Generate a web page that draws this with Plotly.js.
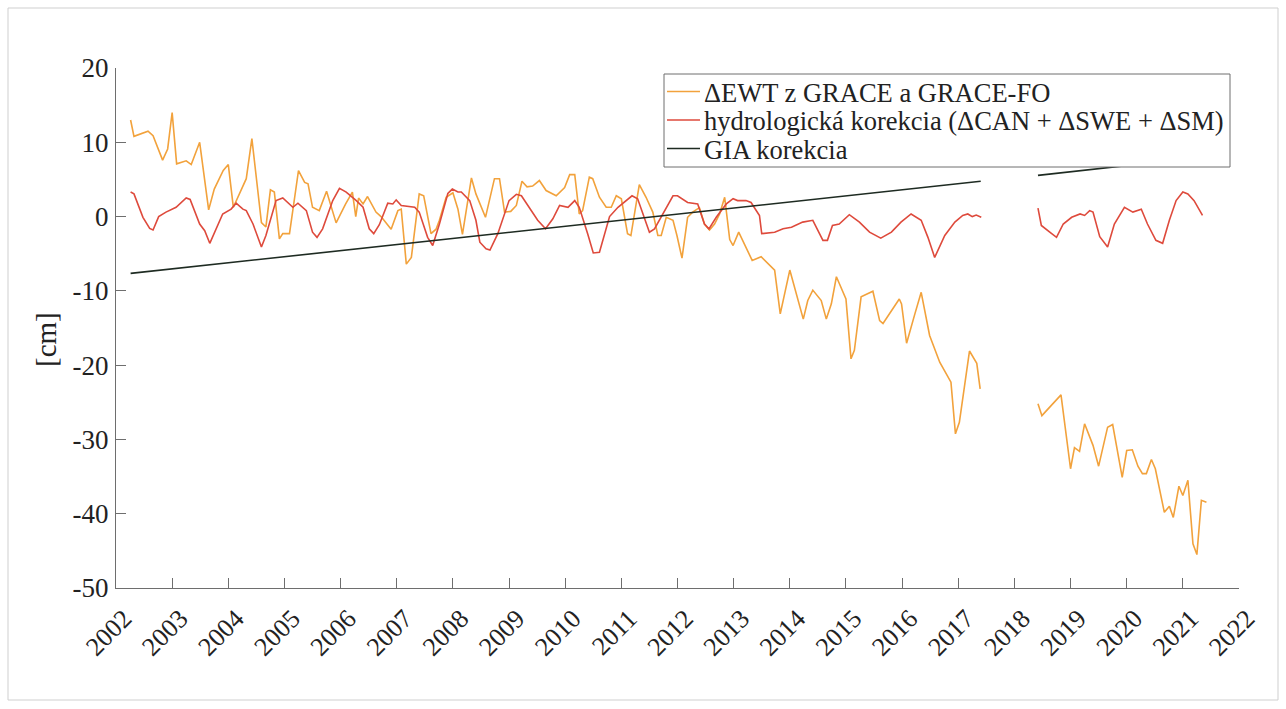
<!DOCTYPE html>
<html>
<head>
<meta charset="utf-8">
<script src="https://cdn.plot.ly/plotly-3.0.1.min.js"></script>
<style>
  html, body { margin: 0; padding: 0; background: #ffffff; }
  #chart { width: 1286px; height: 709px; }
</style>
</head>
<body>
<div id="chart"></div>
<script>
// ---- data (decimal years, cm) ----
const ewtYears = [
  2002.26,2002.32,2002.57,2002.66,2002.83,2002.92,2003.00,2003.08,2003.25,2003.34,
  2003.49,2003.65,2003.75,2003.91,2004.00,2004.09,2004.32,2004.42,2004.59,2004.67,
  2004.75,2004.82,2004.91,2004.97,2005.09,2005.25,2005.36,2005.42,2005.50,2005.62,
  2005.75,2005.92,2006.09,2006.21,2006.27,2006.32,2006.40,2006.48,2006.63,2006.72,
  2006.90,2007.02,2007.08,2007.17,2007.26,2007.40,2007.48,2007.61,2007.70,2007.76,
  2007.88,2008.00,2008.09,2008.17,2008.33,2008.41,2008.58,2008.74,2008.83,2008.92,
  2009.03,2009.13,2009.23,2009.32,2009.42,2009.54,2009.66,2009.84,2009.99,2010.08,
  2010.17,2010.25,2010.31,2010.43,2010.49,2010.61,2010.73,2010.82,2010.91,2011.00,
  2011.11,2011.17,2011.32,2011.44,2011.56,2011.65,2011.71,2011.80,2011.92,2011.99,
  2012.08,2012.18,2012.27,2012.39,2012.48,2012.57,2012.66,2012.75,2012.84,2012.93,
  2012.99,2013.09,2013.33,2013.49,2013.73,2013.83,2014.00,2014.14,2014.24,2014.32,
  2014.41,2014.56,2014.65,2014.74,2014.83,2015.00,2015.09,2015.15,2015.27,2015.48,
  2015.60,2015.66,2015.81,2015.95,2015.99,2016.08,2016.22,2016.34,2016.49,2016.67,
  2016.87,2016.95,2017.02,2017.20,2017.33,2017.39,
  2017.90,
  2018.42,2018.49,2018.83,2019.00,2019.07,2019.16,2019.25,2019.40,2019.50,2019.66,
  2019.75,2019.92,2020.00,2020.10,2020.20,2020.28,2020.35,2020.44,2020.51,2020.67,
  2020.76,2020.83,2020.93,2021.00,2021.09,2021.18,2021.25,2021.33,2021.42
];
const ewtValues = [
  13.0,10.8,11.5,10.9,7.6,9.1,14.0,7.1,7.5,7.0,
  10.0,0.9,3.7,6.2,7.0,1.25,5.1,10.5,-0.8,-1.4,
  3.6,3.3,-3.0,-2.3,-2.3,6.2,4.6,4.4,1.25,0.8,
  3.4,-0.85,1.7,3.3,0.0,2.5,1.7,2.7,0.6,0.0,
  -1.7,0.8,1.0,-6.4,-5.5,3.05,2.8,-2.3,-1.7,-0.5,
  2.6,3.2,1.0,-2.4,5.2,3.05,-0.1,5.1,5.1,0.6,
  0.7,1.5,4.75,4.0,4.1,4.85,3.5,2.8,3.9,5.65,
  5.65,0.35,0.8,5.3,5.1,2.6,1.25,1.25,2.8,2.4,
  -2.3,-2.55,4.3,2.6,0.6,-2.55,-2.55,-0.1,-0.5,-2.55,
  -5.6,-0.1,0.6,1.2,-1.0,-1.8,-1.0,0.35,2.6,-3.1,
  -3.9,-2.1,-5.9,-5.4,-7.2,-13.1,-7.2,-10.9,-13.8,-11.3,
  -9.9,-11.3,-13.8,-11.75,-8.1,-11.1,-19.15,-18.0,-10.8,-10.05,
  -14.0,-14.4,-12.65,-11.1,-11.75,-17.05,-13.3,-10.2,-16.0,-19.6,
  -22.3,-29.25,-27.7,-18.1,-19.75,-23.2,
  null,
  -25.2,-26.8,-24.0,-33.95,-31.1,-31.6,-27.9,-30.8,-33.6,-28.35,
  -28.0,-35.1,-31.5,-31.4,-33.6,-34.6,-34.6,-32.7,-33.95,-39.8,
  -39.0,-40.5,-36.3,-37.55,-35.5,-44.05,-45.5,-38.2,-38.45
];

const hydroYears = [
  2002.26,2002.32,2002.48,2002.60,2002.66,2002.76,2002.89,2003.07,2003.25,2003.32,
  2003.49,2003.58,2003.67,2003.75,2003.90,2004.05,2004.14,2004.26,2004.32,2004.44,
  2004.59,2004.67,2004.85,2004.97,2005.15,2005.24,2005.39,2005.50,2005.58,2005.68,
  2005.86,2005.98,2006.10,2006.28,2006.40,2006.51,2006.59,2006.69,2006.84,2006.93,
  2006.99,2007.08,2007.32,2007.40,2007.55,2007.64,2007.76,2007.91,2007.99,2008.09,
  2008.15,2008.30,2008.41,2008.48,2008.59,2008.66,2008.80,2009.00,2009.13,2009.22,
  2009.36,2009.51,2009.65,2009.78,2009.90,2010.05,2010.17,2010.25,2010.40,2010.50,
  2010.61,2010.79,2010.94,2011.09,2011.19,2011.29,2011.39,2011.50,2011.59,2011.71,
  2011.92,2012.00,2012.18,2012.36,2012.48,2012.56,2012.69,2012.87,2012.99,2013.07,
  2013.22,2013.31,2013.46,2013.50,2013.73,2013.88,2014.03,2014.23,2014.41,2014.59,
  2014.67,2014.76,2014.88,2015.06,2015.24,2015.42,2015.62,2015.81,2015.98,2016.16,
  2016.34,2016.46,2016.58,2016.76,2016.94,2017.08,2017.17,2017.25,2017.32,2017.41,
  2017.90,
  2018.42,2018.48,2018.63,2018.75,2018.87,2019.02,2019.17,2019.25,2019.34,2019.40,
  2019.52,2019.66,2019.78,2019.96,2020.11,2020.26,2020.37,2020.52,2020.64,2020.76,
  2020.88,2021.00,2021.09,2021.20,2021.35
];
const hydroValues = [
  3.3,3.05,-0.1,-1.6,-1.8,0.0,0.6,1.25,2.5,2.3,
  -1.0,-1.9,-3.6,-2.3,0.35,1.0,1.8,1.0,0.8,-1.0,
  -4.1,-2.55,2.15,2.5,1.25,1.8,0.8,-2.1,-2.8,-1.65,
  2.15,3.8,3.3,2.15,1.25,-1.65,-2.3,-1.1,1.8,1.7,
  2.25,1.5,1.25,0.6,-2.8,-3.9,-1.0,3.1,3.7,3.3,
  3.3,2.15,-0.5,-3.45,-4.35,-4.5,-2.3,2.15,3.0,2.8,
  1.25,-0.5,-1.65,-0.3,1.5,1.25,2.15,1.25,-2.3,-4.9,
  -4.8,0.0,1.25,2.15,2.8,2.4,0.15,-2.1,-1.65,-0.1,
  2.8,2.8,1.9,1.7,-1.0,-1.65,-0.1,1.7,2.4,2.15,
  2.15,1.9,0.15,-2.3,-2.1,-1.65,-1.45,-0.75,-0.5,-3.2,
  -3.2,-1.2,-1.0,0.25,-0.75,-2.1,-2.9,-2.1,-0.75,0.35,
  -0.5,-2.8,-5.5,-2.55,-0.75,0.15,0.35,0.0,0.2,-0.1,
  null,
  1.15,-1.2,-2.1,-2.8,-1.0,-0.1,0.35,0.15,0.8,0.6,
  -2.7,-4.1,-1.0,1.25,0.6,1.0,-1.0,-3.2,-3.6,-0.5,
  2.15,3.3,3.05,2.15,0.15
];

const giaYears  = [2002.26, 2017.40, 2017.90, 2018.42, 2021.42];
const giaValues = [-7.65, 4.75, null, 5.55, 8.05];

const xTickVals = [2002,2003,2004,2005,2006,2007,2008,2009,2010,2011,2012,2013,2014,2015,2016,2017,2018,2019,2020,2021,2022];
const xTickText = ['2002','2003','2004','2005','2006','2007','2008','2009','2010','2011','2012','2013','2014','2015','2016','2017','2018','2019','2020','2021','2022'];
const yTickVals = [-50,-40,-30,-20,-10,0,10,20];
const yTickText = ['-50','-40','-30','-20','-10','0','10','20'];

const seriesNames = [
  '\u0394EWT z GRACE a GRACE-FO',
  'hydrologická korekcia (\u0394CAN + \u0394SWE + \u0394SM)',
  'GIA korekcia'
];
const seriesColors = ['#F2A23C', '#DE4A3C', '#1E2B22'];
const yTitle = '[cm]';

// ---- plot ----
const FONT = 'Liberation Serif';
const ML = 116, MR = 47, MT = 68, MB = 121;
const PW = 1286 - ML - MR, PH = 709 - MT - MB;
const px = v => (v - ML) / PW;
const py = v => (709 - MB - v) / PH;

const seriesX = [ewtYears, hydroYears, giaYears];
const seriesY = [ewtValues, hydroValues, giaValues];
const traces = seriesNames.map((nm, i) => ({
  x: seriesX[i], y: seriesY[i], name: nm, type: 'scatter', mode: 'lines',
  connectgaps: false, showlegend: false,
  line: { color: seriesColors[i], width: 1.6 }
}));

// legend box (drawn above the traces, like the reference where it hides the GIA line)
const LEG = { left: 664, right: 1230, top: 74, bottom: 167, rowY: [91.5, 120, 148.5],
              lineX0: 667, lineX1: 700, textX: 703 };
const shapes = [
  { type: 'rect', xref: 'paper', yref: 'paper', layer: 'below',
    x0: px(8), x1: px(1278), y0: py(700), y1: py(8),
    line: { color: '#cfcfcf', width: 1 }, fillcolor: 'rgba(0,0,0,0)' },
  { type: 'rect', xref: 'paper', yref: 'paper', layer: 'above',
    x0: px(LEG.left), x1: px(LEG.right), y0: py(LEG.bottom), y1: py(LEG.top),
    line: { color: '#6e6e6e', width: 1 }, fillcolor: '#ffffff' }
];
const annotations = [
  { text: yTitle, xref: 'paper', yref: 'paper', x: px(46), y: py(340),
    xanchor: 'center', yanchor: 'middle', textangle: -90, showarrow: false,
    font: { family: FONT, size: 29, color: '#222222' } }
];
seriesNames.forEach((nm, i) => {
  shapes.push({ type: 'line', xref: 'paper', yref: 'paper', layer: 'above',
    x0: px(LEG.lineX0), x1: px(LEG.lineX1), y0: py(LEG.rowY[i]), y1: py(LEG.rowY[i]),
    line: { color: seriesColors[i], width: 1.6 } });
  annotations.push({ text: nm, xref: 'paper', yref: 'paper',
    x: px(LEG.textX), y: py(LEG.rowY[i] + 1), xanchor: 'left', yanchor: 'middle',
    showarrow: false, borderpad: 0,
    font: { family: FONT, size: 26.5, color: '#222222' } });
});

const layout = {
  width: 1286, height: 709,
  margin: { l: ML, r: MR, t: MT, b: MB, pad: 0 },
  paper_bgcolor: '#ffffff', plot_bgcolor: '#ffffff',
  font: { family: FONT, color: '#222222' },
  showlegend: false,
  xaxis: {
    range: [2002, 2022], tickmode: 'array', tickvals: xTickVals, ticktext: xTickText,
    tickangle: -45, ticks: 'inside', ticklen: 10, tickcolor: '#6e6e6e', tickwidth: 1,
    showline: true, linecolor: '#6e6e6e', linewidth: 1, mirror: false,
    showgrid: false, zeroline: false,
    tickfont: { family: FONT, size: 26, color: '#222222' },
    ticklabelstandoff: 4, ticklabelshift: 8
  },
  yaxis: {
    range: [-50, 20], tickmode: 'array', tickvals: yTickVals, ticktext: yTickText,
    ticks: 'inside', ticklen: 10, tickcolor: '#6e6e6e', tickwidth: 1,
    showline: true, linecolor: '#6e6e6e', linewidth: 1, mirror: false,
    showgrid: false, zeroline: false,
    tickfont: { family: FONT, size: 27, color: '#222222' }, ticklabelstandoff: 1
  },
  annotations: annotations,
  shapes: shapes
};

Plotly.newPlot('chart', traces, layout, { displayModeBar: false, staticPlot: true });
</script>
</body>
</html>
